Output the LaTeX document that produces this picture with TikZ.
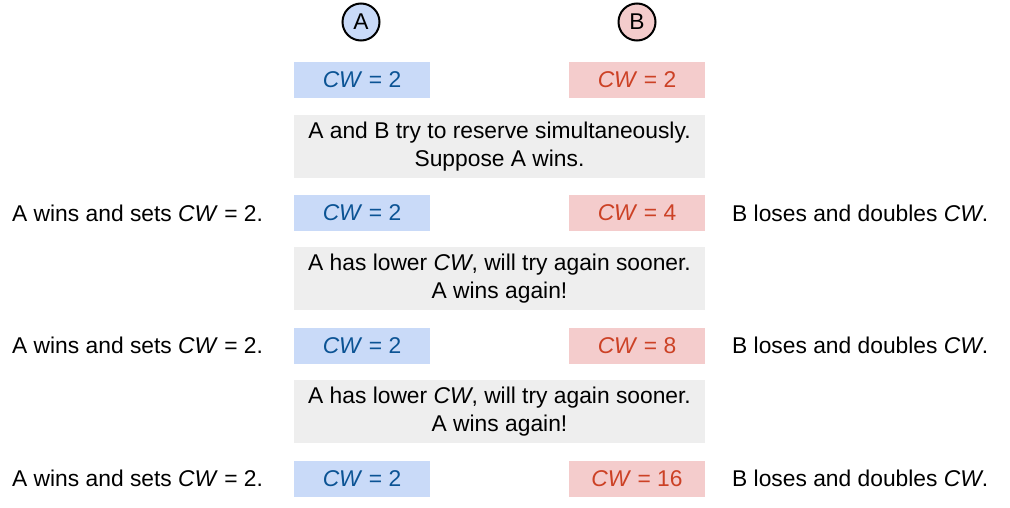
\documentclass[tikz,border=0pt]{standalone}
\usepackage{fontspec}
\setmainfont{Liberation Sans}
\begin{document}
\begin{tikzpicture}[x=1pt,y=-1pt,
  every node/.style={font=\fontsize{22.8}{28}\selectfont},
  proc/.style={circle,draw=black,line width=2pt,minimum size=37pt,inner sep=0pt},
  bbox/.style={fill=blueF,minimum width=136pt,minimum height=36pt,inner sep=0pt,text=blueT},
  rbox/.style={fill=redF,minimum width=136pt,minimum height=36pt,inner sep=0pt,text=redT},
  gbox/.style={fill=grayF,minimum width=411pt,minimum height=63pt,inner sep=0pt,align=center},
  ltxt/.style={anchor=west,inner sep=0pt},
  rtxt/.style={anchor=west,inner sep=0pt}]
\definecolor{blueF}{HTML}{C9DAF8}
\definecolor{blueT}{HTML}{0B5394}
\definecolor{redF}{HTML}{F4CCCC}
\definecolor{redT}{HTML}{CC4125}
\definecolor{grayF}{HTML}{EEEEEE}
\useasboundingbox (0,0) rectangle (1010,508);
\node[proc,fill=blueF] (pa) at (361,22) {A};
\node[proc,fill=redF] (pb) at (637,22) {B};
\node[bbox] (a1) at (362,80) {\textit{CW} = 2};
\node[rbox] (b1) at (637,80) {\textit{CW} = 2};
\node[gbox] (g1) at (499.5,146.5) {A and B try to reserve simultaneously.\\Suppose A wins.};
\node[bbox] (a2) at (362,213) {\textit{CW} = 2};
\node[rbox] (b2) at (637,213) {\textit{CW} = 4};
\node[ltxt] (l2) at (12,213) {A wins and sets \textit{CW} = 2.};
\node[rtxt] (r2) at (732,213) {B loses and doubles \textit{CW}.};
\node[gbox] (g2) at (499.5,278.5) {A has lower \textit{CW}, will try again sooner.\\A wins again!};
\node[bbox] (a3) at (362,345.5) {\textit{CW} = 2};
\node[rbox] (b3) at (637,345.5) {\textit{CW} = 8};
\node[ltxt] (l3) at (12,345.5) {A wins and sets \textit{CW} = 2.};
\node[rtxt] (r3) at (732,345.5) {B loses and doubles \textit{CW}.};
\node[gbox] (g3) at (499.5,411.5) {A has lower \textit{CW}, will try again sooner.\\A wins again!};
\node[bbox] (a4) at (362,478.5) {\textit{CW} = 2};
\node[rbox] (b4) at (637,478.5) {\textit{CW} = 16};
\node[ltxt] (l4) at (12,478.5) {A wins and sets \textit{CW} = 2.};
\node[rtxt] (r4) at (732,478.5) {B loses and doubles \textit{CW}.};
\end{tikzpicture}
\end{document}
